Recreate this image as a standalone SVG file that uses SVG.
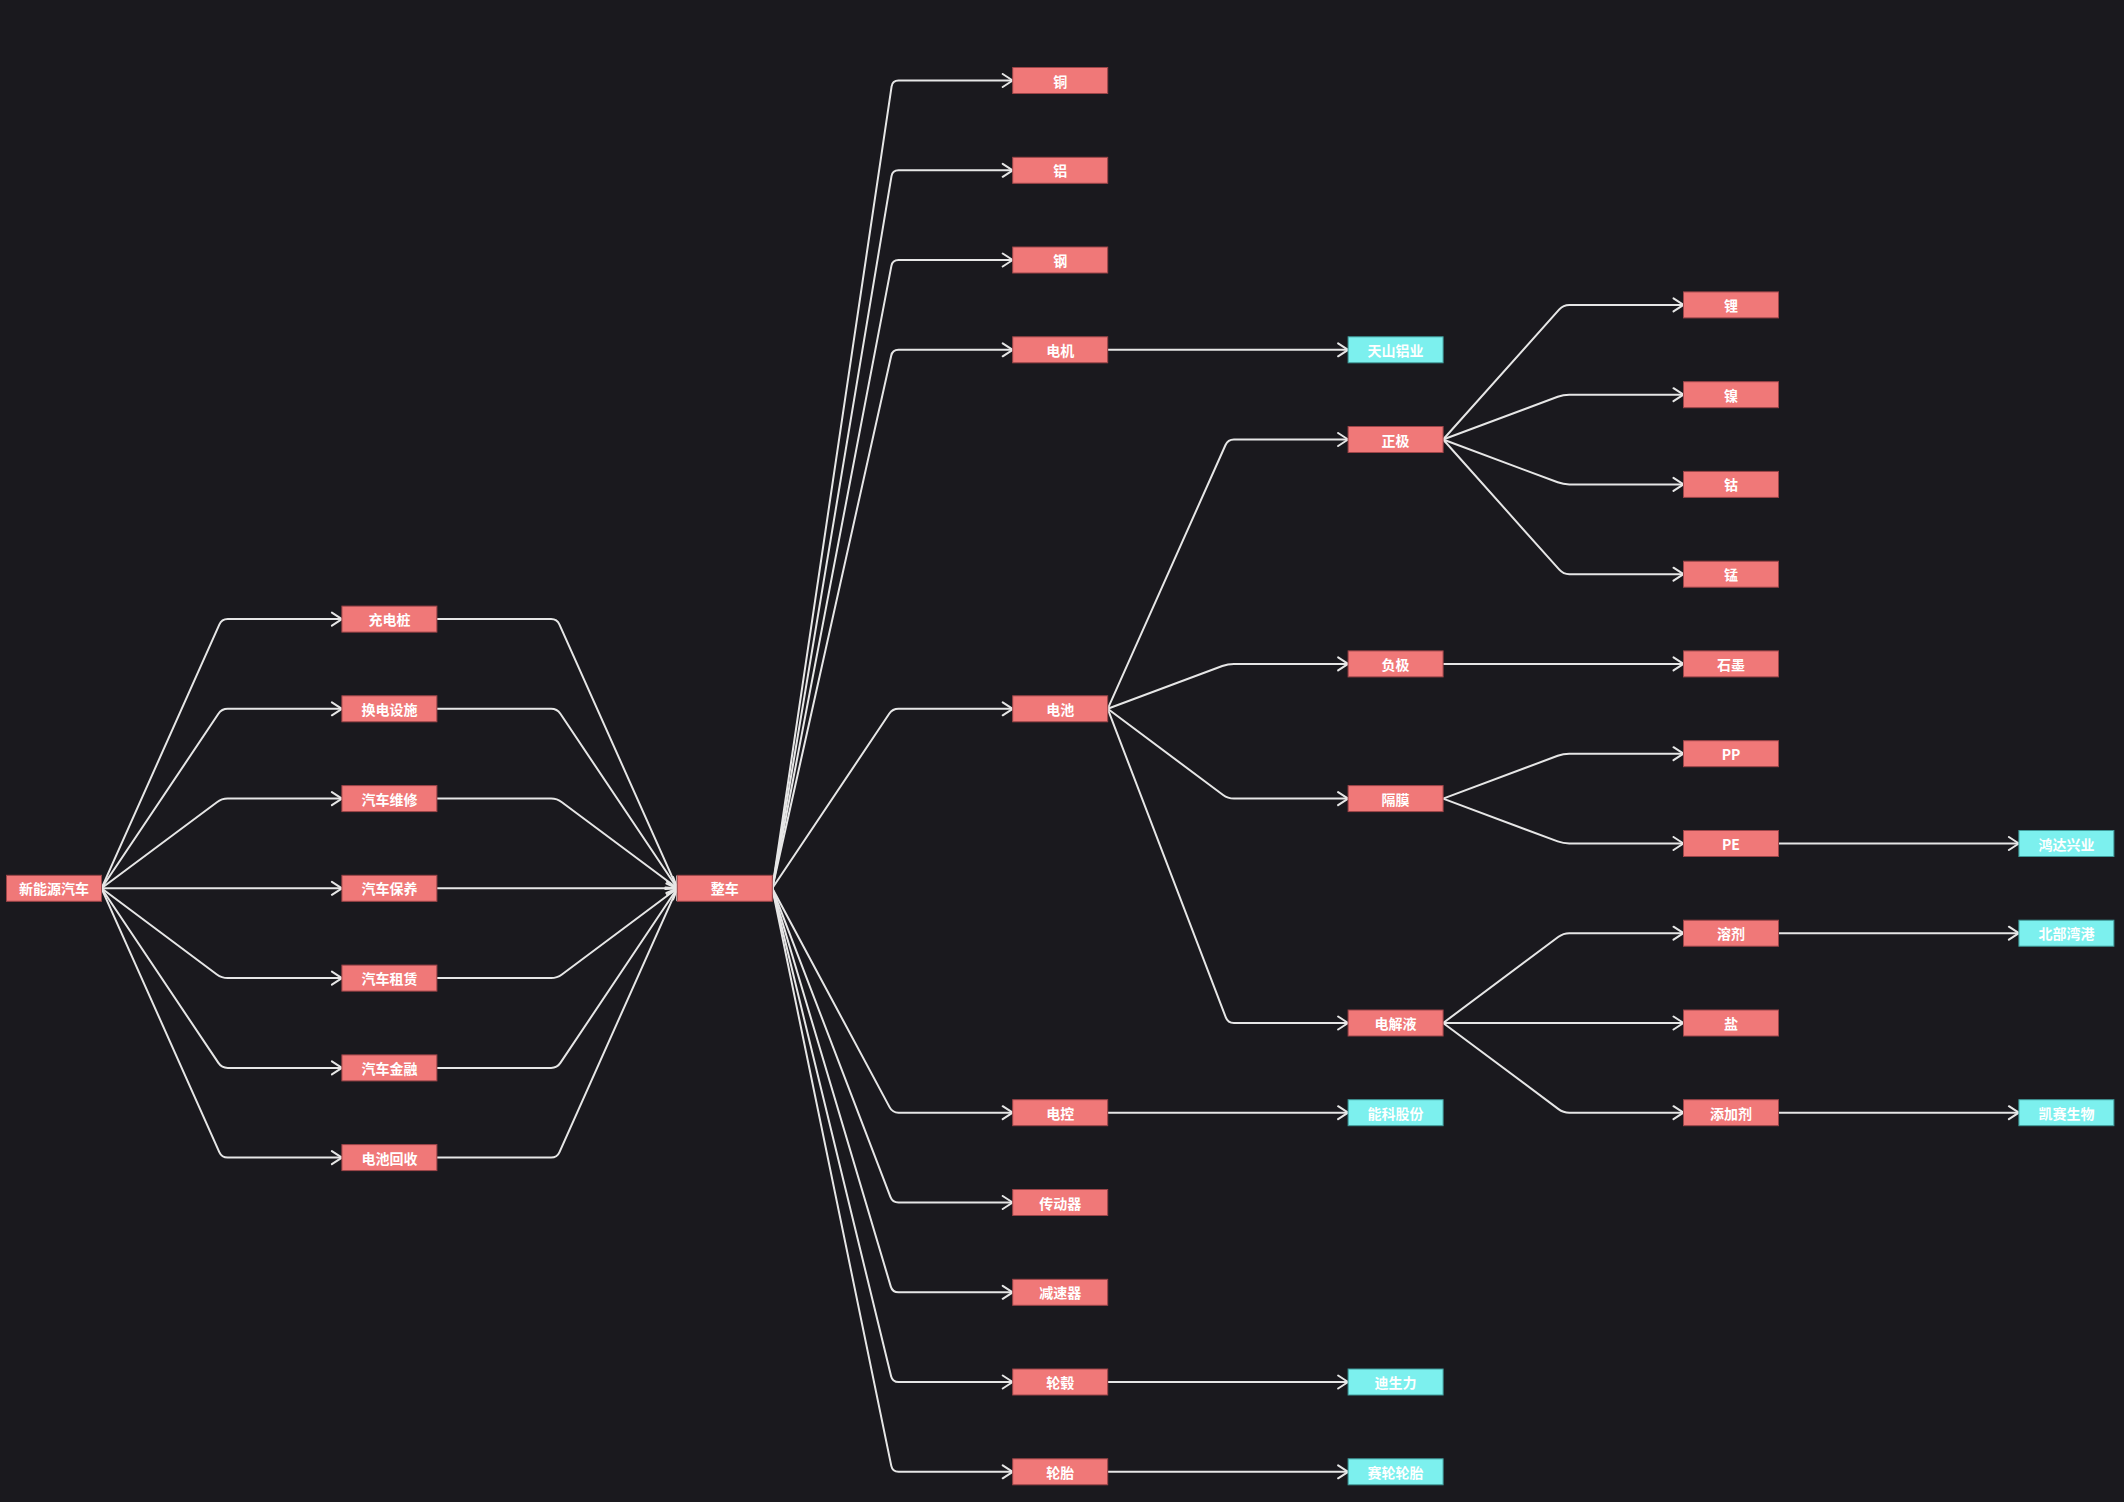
<svg xmlns="http://www.w3.org/2000/svg" width="2124" height="1502" viewBox="0 0 2124 1502">
  <defs>
    <marker id="arrow" markerUnits="userSpaceOnUse" markerWidth="14" markerHeight="16" viewBox="-12 -8 14 16" refX="0" refY="0" orient="auto">
      <path d="M-10,-6.5 L0,0 L-10,6.5" fill="none" stroke="#e6e6e6" stroke-width="2" stroke-linecap="round" stroke-linejoin="round"/>
    </marker>
    <style>
      .bg { fill: #1a191e; }
      .edge { fill: none; stroke: #e6e6e6; stroke-width: 2; stroke-linejoin: round; marker-end: url(#arrow); }
      .red rect { fill: #f07878; stroke: #9c4448; stroke-width: 1; }
      .cyan rect { fill: #7cf0ee; stroke: #3f9a99; stroke-width: 1; }
      text { font-family: "Noto Sans CJK SC", "Noto Sans", "Liberation Sans", sans-serif; font-size: 14px; font-weight: bold; fill: #ffffff; text-anchor: middle; dominant-baseline: central; }
    </style>
  </defs>

  <rect class="bg" x="0" y="0" width="2124" height="1502"/>

  <!-- connectors -->
  <g id="connectors">
    <!-- 新能源汽车 to services -->
    <path class="edge" d="M101.5,888.3 L219.3,624.6 Q221.7,619.1 227.7,619.1 L341.9,619.1"/>
    <path class="edge" d="M101.5,888.3 L218.4,713.8 Q221.7,708.8 227.7,708.8 L341.9,708.8"/>
    <path class="edge" d="M101.5,888.3 L216.9,802.2 Q221.7,798.6 227.7,798.6 L341.9,798.6"/>
    <path class="edge" d="M101.5,888.3 L341.9,888.3"/>
    <path class="edge" d="M101.5,888.3 L216.9,974.5 Q221.7,978.1 227.7,978.1 L341.9,978.1"/>
    <path class="edge" d="M101.5,888.3 L218.4,1062.9 Q221.7,1067.9 227.7,1067.9 L341.9,1067.9"/>
    <path class="edge" d="M101.5,888.3 L219.3,1152.1 Q221.7,1157.6 227.7,1157.6 L341.9,1157.6"/>

    <!-- services to 整车 -->
    <path class="edge" d="M436.9,619.1 L551.1,619.1 Q557.1,619.1 559.5,624.6 L677.3,888.3"/>
    <path class="edge" d="M436.9,708.8 L551.1,708.8 Q557.1,708.8 560.4,713.8 L677.3,888.3"/>
    <path class="edge" d="M436.9,798.6 L551.1,798.6 Q557.1,798.6 561.9,802.2 L677.3,888.3"/>
    <path class="edge" d="M436.9,888.3 L677.3,888.3"/>
    <path class="edge" d="M436.9,978.1 L551.1,978.1 Q557.1,978.1 561.9,974.5 L677.3,888.3"/>
    <path class="edge" d="M436.9,1067.9 L551.1,1067.9 Q557.1,1067.9 560.4,1062.9 L677.3,888.3"/>
    <path class="edge" d="M436.9,1157.6 L551.1,1157.6 Q557.1,1157.6 559.5,1152.1 L677.3,888.3"/>

    <!-- 整车 to components -->
    <path class="edge" d="M772.3,888.3 L891.6,86.4 Q892.5,80.5 898.5,80.5 L1012.7,80.5"/>
    <path class="edge" d="M772.3,888.3 L891.5,176.2 Q892.5,170.3 898.5,170.3 L1012.7,170.3"/>
    <path class="edge" d="M772.3,888.3 L891.4,265.9 Q892.5,260.0 898.5,260.0 L1012.7,260.0"/>
    <path class="edge" d="M772.3,888.3 L891.2,355.7 Q892.5,349.8 898.5,349.8 L1012.7,349.8"/>
    <path class="edge" d="M772.3,888.3 L889.2,713.8 Q892.5,708.8 898.5,708.8 L1012.7,708.8"/>
    <path class="edge" d="M772.3,888.3 L889.7,1107.4 Q892.5,1112.7 898.5,1112.7 L1012.7,1112.7"/>
    <path class="edge" d="M772.3,888.3 L890.4,1196.9 Q892.5,1202.5 898.5,1202.5 L1012.7,1202.5"/>
    <path class="edge" d="M772.3,888.3 L890.8,1286.6 Q892.5,1292.3 898.5,1292.3 L1012.7,1292.3"/>
    <path class="edge" d="M772.3,888.3 L891.1,1376.2 Q892.5,1382.0 898.5,1382.0 L1012.7,1382.0"/>
    <path class="edge" d="M772.3,888.3 L891.3,1465.9 Q892.5,1471.8 898.5,1471.8 L1012.7,1471.8"/>

    <!-- component suppliers -->
    <path class="edge" d="M1107.7,349.8 L1348.1,349.8"/>
    <path class="edge" d="M1107.7,1112.7 L1348.1,1112.7"/>
    <path class="edge" d="M1107.7,1382.0 L1348.1,1382.0"/>
    <path class="edge" d="M1107.7,1471.8 L1348.1,1471.8"/>

    <!-- 电池 to cell materials -->
    <path class="edge" d="M1107.7,708.8 L1225.5,445.0 Q1227.9,439.5 1233.9,439.5 L1348.1,439.5"/>
    <path class="edge" d="M1107.7,708.8 L1222.3,666.0 Q1227.9,663.9 1233.9,663.9 L1348.1,663.9"/>
    <path class="edge" d="M1107.7,708.8 L1223.1,795.0 Q1227.9,798.6 1233.9,798.6 L1348.1,798.6"/>
    <path class="edge" d="M1107.7,708.8 L1225.8,1017.4 Q1227.9,1023.0 1233.9,1023.0 L1348.1,1023.0"/>

    <!-- 正极 -->
    <path class="edge" d="M1443.1,439.5 L1559.3,309.4 Q1563.3,304.9 1569.3,304.9 L1683.5,304.9"/>
    <path class="edge" d="M1443.1,439.5 L1557.7,396.8 Q1563.3,394.7 1569.3,394.7 L1683.5,394.7"/>
    <path class="edge" d="M1443.1,439.5 L1557.7,482.3 Q1563.3,484.4 1569.3,484.4 L1683.5,484.4"/>
    <path class="edge" d="M1443.1,439.5 L1559.3,569.7 Q1563.3,574.2 1569.3,574.2 L1683.5,574.2"/>

    <!-- 负极 -->
    <path class="edge" d="M1443.1,663.9 L1683.5,663.9"/>

    <!-- 隔膜 -->
    <path class="edge" d="M1443.1,798.6 L1557.7,755.8 Q1563.3,753.7 1569.3,753.7 L1683.5,753.7"/>
    <path class="edge" d="M1443.1,798.6 L1557.7,841.4 Q1563.3,843.5 1569.3,843.5 L1683.5,843.5"/>

    <!-- 电解液 -->
    <path class="edge" d="M1443.1,1023.0 L1558.5,936.8 Q1563.3,933.2 1569.3,933.2 L1683.5,933.2"/>
    <path class="edge" d="M1443.1,1023.0 L1683.5,1023.0"/>
    <path class="edge" d="M1443.1,1023.0 L1558.5,1109.1 Q1563.3,1112.7 1569.3,1112.7 L1683.5,1112.7"/>

    <!-- material suppliers -->
    <path class="edge" d="M1778.5,843.5 L2018.9,843.5"/>
    <path class="edge" d="M1778.5,933.2 L2018.9,933.2"/>
    <path class="edge" d="M1778.5,1112.7 L2018.9,1112.7"/>
  </g>

  <!-- root -->
  <g id="n-xinnengyuan" class="red"><rect x="6.5" y="875.3" width="95" height="26"/><text x="54" y="888.3">新能源汽车</text></g>

  <!-- services -->
  <g id="n-chongdianzhuang" class="red"><rect x="341.9" y="606.1" width="95" height="26"/><text x="389.4" y="619.1">充电桩</text></g>
  <g id="n-huandian" class="red"><rect x="341.9" y="695.8" width="95" height="26"/><text x="389.4" y="708.8">换电设施</text></g>
  <g id="n-weixiu" class="red"><rect x="341.9" y="785.6" width="95" height="26"/><text x="389.4" y="798.6">汽车维修</text></g>
  <g id="n-baoyang" class="red"><rect x="341.9" y="875.3" width="95" height="26"/><text x="389.4" y="888.3">汽车保养</text></g>
  <g id="n-zulin" class="red"><rect x="341.9" y="965.1" width="95" height="26"/><text x="389.4" y="978.1">汽车租赁</text></g>
  <g id="n-jinrong" class="red"><rect x="341.9" y="1054.9" width="95" height="26"/><text x="389.4" y="1067.9">汽车金融</text></g>
  <g id="n-huishou" class="red"><rect x="341.9" y="1144.6" width="95" height="26"/><text x="389.4" y="1157.6">电池回收</text></g>

  <!-- vehicle -->
  <g id="n-zhengche" class="red"><rect x="677.3" y="875.3" width="95" height="26"/><text x="724.8" y="888.3">整车</text></g>

  <!-- components -->
  <g id="n-tong" class="red"><rect x="1012.7" y="67.5" width="95" height="26"/><text x="1060.2" y="80.5">铜</text></g>
  <g id="n-lv" class="red"><rect x="1012.7" y="157.3" width="95" height="26"/><text x="1060.2" y="170.3">铝</text></g>
  <g id="n-gang" class="red"><rect x="1012.7" y="247.0" width="95" height="26"/><text x="1060.2" y="260.0">钢</text></g>
  <g id="n-dianji" class="red"><rect x="1012.7" y="336.8" width="95" height="26"/><text x="1060.2" y="349.8">电机</text></g>
  <g id="n-dianchi" class="red"><rect x="1012.7" y="695.8" width="95" height="26"/><text x="1060.2" y="708.8">电池</text></g>
  <g id="n-diankong" class="red"><rect x="1012.7" y="1099.7" width="95" height="26"/><text x="1060.2" y="1112.7">电控</text></g>
  <g id="n-chuandong" class="red"><rect x="1012.7" y="1189.5" width="95" height="26"/><text x="1060.2" y="1202.5">传动器</text></g>
  <g id="n-jiansu" class="red"><rect x="1012.7" y="1279.3" width="95" height="26"/><text x="1060.2" y="1292.3">减速器</text></g>
  <g id="n-lungu" class="red"><rect x="1012.7" y="1369.0" width="95" height="26"/><text x="1060.2" y="1382.0">轮毂</text></g>
  <g id="n-luntai" class="red"><rect x="1012.7" y="1458.8" width="95" height="26"/><text x="1060.2" y="1471.8">轮胎</text></g>

  <!-- column 4 -->
  <g id="n-tianshan" class="cyan"><rect x="1348.1" y="336.8" width="95" height="26"/><text x="1395.6" y="349.8">天山铝业</text></g>
  <g id="n-zhengji" class="red"><rect x="1348.1" y="426.5" width="95" height="26"/><text x="1395.6" y="439.5">正极</text></g>
  <g id="n-fuji" class="red"><rect x="1348.1" y="650.9" width="95" height="26"/><text x="1395.6" y="663.9">负极</text></g>
  <g id="n-gemo" class="red"><rect x="1348.1" y="785.6" width="95" height="26"/><text x="1395.6" y="798.6">隔膜</text></g>
  <g id="n-dianjieye" class="red"><rect x="1348.1" y="1010.0" width="95" height="26"/><text x="1395.6" y="1023.0">电解液</text></g>
  <g id="n-nengke" class="cyan"><rect x="1348.1" y="1099.7" width="95" height="26"/><text x="1395.6" y="1112.7">能科股份</text></g>
  <g id="n-dishengli" class="cyan"><rect x="1348.1" y="1369.0" width="95" height="26"/><text x="1395.6" y="1382.0">迪生力</text></g>
  <g id="n-sailun" class="cyan"><rect x="1348.1" y="1458.8" width="95" height="26"/><text x="1395.6" y="1471.8">赛轮轮胎</text></g>

  <!-- column 5 -->
  <g id="n-li" class="red"><rect x="1683.5" y="291.9" width="95" height="26"/><text x="1731" y="304.9">锂</text></g>
  <g id="n-nie" class="red"><rect x="1683.5" y="381.7" width="95" height="26"/><text x="1731" y="394.7">镍</text></g>
  <g id="n-gu" class="red"><rect x="1683.5" y="471.4" width="95" height="26"/><text x="1731" y="484.4">钴</text></g>
  <g id="n-meng" class="red"><rect x="1683.5" y="561.2" width="95" height="26"/><text x="1731" y="574.2">锰</text></g>
  <g id="n-shimo" class="red"><rect x="1683.5" y="650.9" width="95" height="26"/><text x="1731" y="663.9">石墨</text></g>
  <g id="n-pp" class="red"><rect x="1683.5" y="740.7" width="95" height="26"/><text x="1731" y="753.7">PP</text></g>
  <g id="n-pe" class="red"><rect x="1683.5" y="830.5" width="95" height="26"/><text x="1731" y="843.5">PE</text></g>
  <g id="n-rongji" class="red"><rect x="1683.5" y="920.2" width="95" height="26"/><text x="1731" y="933.2">溶剂</text></g>
  <g id="n-yan" class="red"><rect x="1683.5" y="1010.0" width="95" height="26"/><text x="1731" y="1023.0">盐</text></g>
  <g id="n-tianjiaji" class="red"><rect x="1683.5" y="1099.7" width="95" height="26"/><text x="1731" y="1112.7">添加剂</text></g>

  <!-- column 6 -->
  <g id="n-hongda" class="cyan"><rect x="2018.9" y="830.5" width="95" height="26"/><text x="2066.4" y="843.5">鸿达兴业</text></g>
  <g id="n-beibuwan" class="cyan"><rect x="2018.9" y="920.2" width="95" height="26"/><text x="2066.4" y="933.2">北部湾港</text></g>
  <g id="n-kaisai" class="cyan"><rect x="2018.9" y="1099.7" width="95" height="26"/><text x="2066.4" y="1112.7">凯赛生物</text></g>
</svg>
